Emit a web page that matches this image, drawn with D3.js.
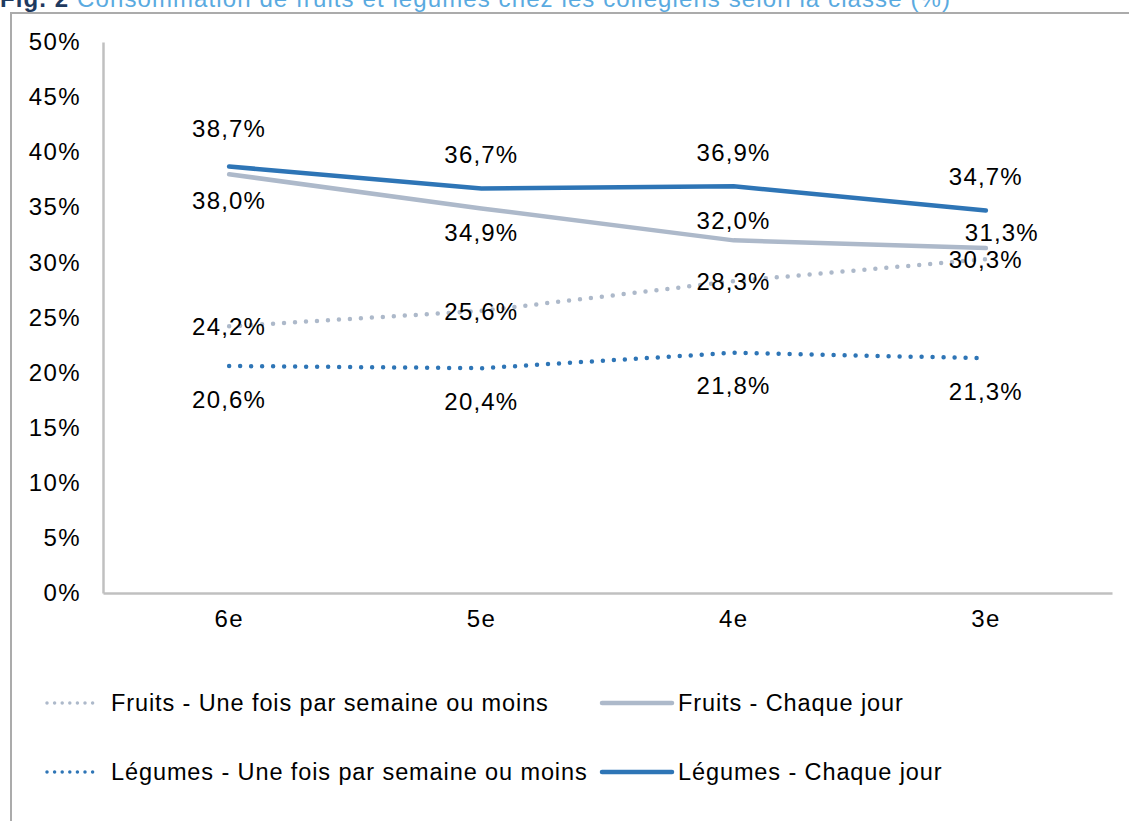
<!DOCTYPE html>
<html><head><meta charset="utf-8">
<script src="https://cdn.jsdelivr.net/npm/d3@7/dist/d3.min.js"></script>
<style>
body{margin:0;background:#fff;}
svg{display:block;font-family:"Liberation Sans",Arial,Helvetica,sans-serif;}
</style></head>
<body><svg id="c" width="1129" height="821"></svg>
<script>
const categories = ["6e","5e","4e","3e"];
const fruitsWeekly = [24.2, 25.6, 28.3, 30.3];
const fruitsDaily = [38.0, 34.9, 32.0, 31.3];
const legumesWeekly = [20.6, 20.4, 21.8, 21.3];
const legumesDaily = [38.7, 36.7, 36.9, 34.7];
const yTicks = [0,5,10,15,20,25,30,35,40,45,50];
const seriesNames = ["Fruits - Une fois par semaine ou moins","Fruits - Chaque jour","Légumes - Une fois par semaine ou moins","Légumes - Chaque jour"];
const titleBold = "Fig. 2";
const titleRest = " Consommation de fruits et légumes chez les collégiens selon la classe (%)";

(function(){
const LIGHT = "#ADB9CA", DARK = "#2E75B6";
const svg = d3.select("#c");
const fmt = v => v.toFixed(1).replace(".", ",") + "%";

// frame
svg.append("path").attr("d","M11,821 V13 H1129").attr("fill","none").attr("stroke","#ABABAB").attr("stroke-width",2);

// title
const t = svg.append("text").attr("x",0).attr("y",7).attr("font-size",24).attr("letter-spacing",1.1);
t.append("tspan").attr("fill","#1F3A5F").attr("font-weight","bold").text(titleBold);
t.append("tspan").attr("fill","#5AAAE0").text(titleRest);

const pLeft = 103, pRight = 1112, pTop = 42, pBottom = 593;
const x = d3.scaleBand().domain(categories).range([pLeft,pRight]);
const y = d3.scaleLinear().domain([0,50]).range([pBottom,pTop]);
const cx = c => x(c) + x.bandwidth()/2;

// axes
const yAxis = svg.append("g").attr("transform",`translate(${pLeft},0)`)
  .call(d3.axisLeft(y).tickValues(yTicks).tickSize(0).tickPadding(22).tickFormat(d => d + "%"));
yAxis.select(".domain").attr("stroke","#C0C0C0").attr("stroke-width",2.5);
yAxis.selectAll("text").attr("font-size",24).attr("letter-spacing",1.4).attr("fill","#000").attr("font-family","Liberation Sans, Arial, sans-serif");

const xAxis = svg.append("g").attr("transform",`translate(0,${pBottom})`)
  .call(d3.axisBottom(x).tickSize(0).tickPadding(17));
xAxis.select(".domain").attr("stroke","#C0C0C0").attr("stroke-width",2.5);
xAxis.selectAll("text").attr("font-size",24).attr("letter-spacing",1.2).attr("fill","#000").attr("font-family","Liberation Sans, Arial, sans-serif");

const line = d3.line().x((d,i) => cx(categories[i])).y(d => y(d));

const series = [
  {vals: fruitsWeekly, color: LIGHT, dotted: true, dx:[0,0,0,0], dy:[0,0,0,0]},
  {vals: legumesWeekly, color: DARK, dotted: true, dx:[0,0,0,0], dy:[33,33,33,33]},
  {vals: fruitsDaily, color: LIGHT, dotted: false, dx:[0,0,0,16], dy:[26,24,-20,-16]},
  {vals: legumesDaily, color: DARK, dotted: false, dx:[0,0,0,0], dy:[-38,-34,-34,-34]}
];

series.forEach(s => {
  const p = svg.append("path").datum(s.vals).attr("d", line)
    .attr("fill","none").attr("stroke", s.color).attr("stroke-linecap","round");
  if (s.dotted) p.attr("stroke-width",4.5).attr("stroke-dasharray","0 11");
  else p.attr("stroke-width",4.5);
});

series.forEach(s => {
  svg.append("g").selectAll("text").data(s.vals).join("text")
    .attr("x",(d,i) => cx(categories[i]) + s.dx[i])
    .attr("y",(d,i) => y(d) + s.dy[i])
    .attr("dy","0.36em").attr("text-anchor","middle")
    .attr("font-size",24).attr("letter-spacing",1.2).attr("fill","#000").text(d => fmt(d));
});

// legend
const legendItems = [
  {name: seriesNames[0], color: LIGHT, dotted: true, lx: 47, ly: 703},
  {name: seriesNames[1], color: LIGHT, dotted: false, lx: 602, ly: 703},
  {name: seriesNames[2], color: DARK, dotted: true, lx: 47, ly: 772},
  {name: seriesNames[3], color: DARK, dotted: false, lx: 602, ly: 772}
];
legendItems.forEach(it => {
  const l = svg.append("line").attr("x1",it.lx).attr("x2",it.dotted ? it.lx+53 : it.lx+70)
    .attr("y1",it.ly).attr("y2",it.ly).attr("stroke",it.color).attr("stroke-linecap","round");
  if (it.dotted) l.attr("stroke-width",3.5).attr("stroke-dasharray","0 7.6");
  else l.attr("stroke-width",4.5);
  svg.append("text").attr("x", it.dotted ? it.lx+64 : it.lx+76).attr("y",it.ly).attr("dy","0.36em")
    .attr("font-size",23.5).attr("letter-spacing",0.9).attr("fill","#000").text(it.name);
});
})();
</script></body></html>
